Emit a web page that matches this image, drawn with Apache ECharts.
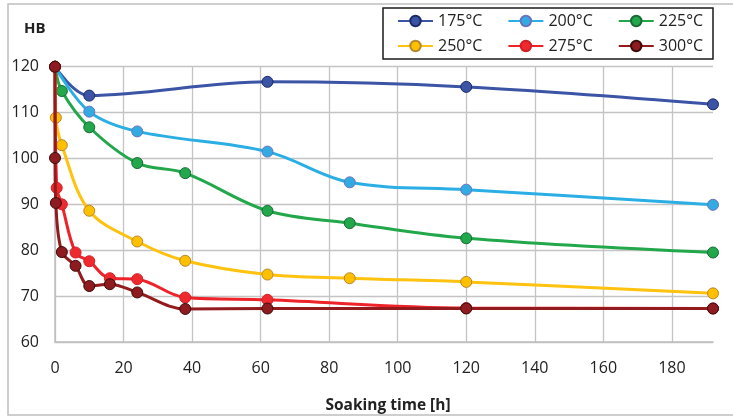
<!DOCTYPE html>
<html>
<head>
<meta charset="utf-8">
<script src="https://cdn.jsdelivr.net/npm/echarts@6/dist/echarts.min.js"></script>
<style>
html,body{margin:0;padding:0;background:#fff;}
#chart{width:733px;height:419px;}
</style>
</head>
<body>
<div id="chart"></div>
<script>
// ---- data (soaking time in hours, hardness HB) ----
const seriesNames = ['175°C','200°C','225°C','250°C','275°C','300°C'];

const hours175 = [0, 10, 62, 120, 192];
const hb175    = [120, 113.7, 116.7, 115.6, 111.8];

const hours200 = [0, 10, 24, 62, 86, 120, 192];
const hb200    = [120, 110.2, 105.9, 101.5, 94.8, 93.2, 89.9];

const hours225 = [0, 2, 10, 24, 38, 62, 86, 120, 192];
const hb225    = [120, 114.7, 106.8, 99.0, 96.8, 88.6, 85.9, 82.6, 79.5];

const hours250 = [0, 0.25, 2, 10, 24, 38, 62, 86, 120, 192];
const hb250    = [120, 108.9, 102.9, 88.6, 81.9, 77.7, 74.7, 73.9, 73.1, 70.6];

const hours275 = [0, 0.5, 2, 6, 10, 16, 24, 38, 62, 120, 192];
const hb275    = [120, 93.6, 90.0, 79.5, 77.6, 73.9, 73.7, 69.7, 69.2, 67.4, 67.3];

const hours300 = [0, 0, 0.25, 2, 6, 10, 16, 24, 38, 62, 120, 192];
const hb300    = [120, 100.1, 90.3, 79.6, 76.6, 72.2, 72.6, 70.8, 67.2, 67.3, 67.3, 67.3];

const xTicks = [0, 20, 40, 60, 80, 100, 120, 140, 160, 180];
const yTicks = [60, 70, 80, 90, 100, 110, 120];

// ---- styles ----
const lineColors   = ['#3b54a5', '#2aaee4', '#22a74b', '#ffc20e', '#ee2229', '#931b1d'];
const markerFill   = ['#3b54a5', '#33abe2', '#22a84a', '#ffc000', '#ee2a2f', '#8d1b1f'];
const markerBorder = ['#1c2a66', '#6a72c0', '#176a36', '#b8862b', '#d21f26', '#3d0b0b'];

const allHours = [hours175, hours200, hours225, hours250, hours275, hours300];
const allHB    = [hb175, hb200, hb225, hb250, hb275, hb300];

const FONT = 'Open Sans';

const series = seriesNames.map((name, i) => ({
  name: name,
  type: 'line',
  smooth: 0.35,
  data: allHours[i].map((h, k) => [h, allHB[i][k]]),
  symbol: 'circle',
  symbolSize: 11,
  lineStyle: { color: lineColors[i], width: 3 },
  itemStyle: { color: markerFill[i], borderColor: markerBorder[i], borderWidth: 1 },
  emphasis: { disabled: true },
  z: 2 + i
}));

const legendBase = {
  orient: 'horizontal',
  left: 397,
  itemWidth: 35,
  itemHeight: 13,
  itemGap: 25,
  textStyle: { fontFamily: FONT, fontSize: 16, color: '#222' },
  selectedMode: false,
  padding: 0,
  z: 20
};

const option = {
  animation: false,
  backgroundColor: '#fff',
  grid: { left: 55, right: 20, top: 66.7, bottom: 75.7 },
  legend: [
    Object.assign({}, legendBase, { top: 13, data: seriesNames.slice(0, 3) }),
    Object.assign({}, legendBase, { top: 38, data: seriesNames.slice(3, 6) })
  ],
  xAxis: {
    type: 'value',
    min: xTicks[0],
    max: 192,
    interval: 20,
    name: 'Soaking time [h]',
    nameLocation: 'middle',
    nameGap: 56,
    nameTextStyle: { fontFamily: FONT, fontSize: 15.5, fontWeight: 'bold', color: '#222', padding: [0, 0, 0, 8] },
    axisLine: { show: true, lineStyle: { color: '#bfbfbf', width: 1.5 } },
    axisTick: { show: false },
    axisLabel: { fontFamily: FONT, fontSize: 16, color: '#222', margin: 18, showMaxLabel: false },
    splitLine: { show: true, showMaxLine: false, lineStyle: { color: '#c4c4c4', width: 1.3 } }
  },
  yAxis: {
    type: 'value',
    min: yTicks[0],
    max: yTicks[yTicks.length - 1],
    interval: 10,
    axisLine: { show: true, lineStyle: { color: '#bfbfbf', width: 1.5 } },
    axisTick: { show: false },
    axisLabel: { fontFamily: FONT, fontSize: 16, color: '#222', margin: 16 },
    splitLine: { show: true, lineStyle: { color: '#c4c4c4', width: 1.3 } }
  },
  graphic: [
    { type: 'rect', shape: { x: 8, y: 4, width: 740, height: 411 },
      style: { fill: 'none', stroke: '#bfbfbf', lineWidth: 1.5 }, silent: true, z: -10 },
    { type: 'rect', shape: { x: 383, y: 8, width: 330, height: 51 },
      style: { fill: 'none', stroke: '#1a1a1a', lineWidth: 1.5 }, silent: true, z: 1 },
    { type: 'text', left: 24, top: 21,
      style: { text: 'HB', fontFamily: FONT, fontSize: 15, fontWeight: 'bold', fill: '#222' }, z: 60 }
  ],
  series: series
};

const chart = echarts.init(document.getElementById('chart'), null, { renderer: 'canvas' });
chart.setOption(option);
</script>
</body>
</html>
